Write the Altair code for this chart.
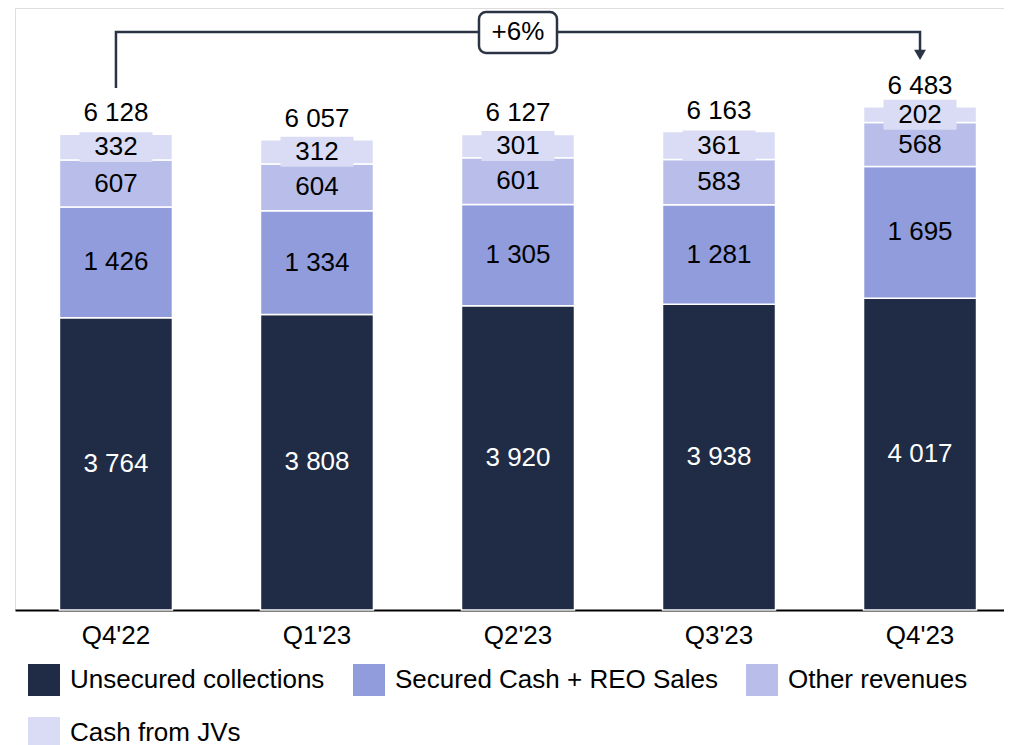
import altair as alt
import pandas as pd

quarters = ["Q4'22", "Q1'23", "Q2'23", "Q3'23", "Q4'23"]
series = ["Unsecured collections", "Secured Cash + REO Sales", "Other revenues", "Cash from JVs"]
unsecured = [3764, 3808, 3920, 3938, 4017]
secured = [1426, 1334, 1305, 1281, 1695]
other = [607, 604, 601, 583, 568]
jvs = [332, 312, 301, 361, 202]
totals = [6128, 6057, 6127, 6163, 6483]
colors = ["#202b45", "#909cdb", "#b8bee9", "#d9dcf4"]
text_colors = ["white", "black", "black", "black"]
growth_label = "+6%"
bracket_start, bracket_end = "Q4'22", "Q4'23"
bracket_y, bracket_low, bracket_tip = 7446, 6724, 7150
box_low, box_high = 7175, 7703

FONT = "Liberation Sans"
FS = 26
Y_MAX = 7755

def fmt(v):
    return f"{v:,}".replace(",", " ")

rows = []
for qi, q in enumerate(quarters):
    base = 0
    for si, (s, vals) in enumerate(zip(series, [unsecured, secured, other, jvs])):
        v = vals[qi]
        rows.append(dict(q=q, series=s, order=si, y0=base, y1=base + v,
                         mid=base + v / 2, label=fmt(v), tcolor=text_colors[si],
                         bg0=base + v / 2 - 193, bg1=base + v / 2 + 193))
        base += v
df = pd.DataFrame(rows)
tot = pd.DataFrame(dict(q=quarters, top=[df[df.q == q].y1.max() for q in quarters],
                        label=[fmt(t) for t in totals]))

xs = alt.X("q:N", sort=quarters,
           scale=alt.Scale(paddingInner=0.438, paddingOuter=0.179, align=0.618),
           axis=alt.Axis(title=None, labelAngle=0, labelFont=FONT, labelFontSize=FS,
                         labelColor="black", ticks=False, labelPadding=12,
                         domainColor="black", domainWidth=2))
yscale = alt.Scale(domain=[0, Y_MAX], nice=False, zero=True)
xq = alt.X("q:N", sort=quarters)

bars = alt.Chart(df).mark_bar(width=113, stroke="white", strokeWidth=1.5).encode(
    x=xs,
    y=alt.Y("y0:Q", scale=yscale, axis=None),
    y2="y1:Q",
    color=alt.Color("series:N",
                    scale=alt.Scale(domain=series, range=colors),
                    legend=alt.Legend(title=None, orient="none", legendX=13, legendY=656,
                                      direction="horizontal", columns=3,
                                      symbolType="square", symbolSize=1024,
                                      symbolStrokeWidth=0, labelFont=FONT, labelFontSize=FS,
                                      labelColor="black", labelOffset=10, columnPadding=28,
                                      rowPadding=21, labelLimit=500)),
    order="order:Q",
)

label_bg = alt.Chart(df[df.series == "Cash from JVs"]).mark_bar(width=73, color=colors[3]).encode(
    x=xq, y=alt.Y("bg0:Q", scale=yscale, axis=None), y2="bg1:Q")

seg_text = alt.Chart(df).mark_text(font=FONT, fontSize=FS, baseline="middle").encode(
    x=xq, y=alt.Y("mid:Q", scale=yscale, axis=None),
    text="label:N", color=alt.Color("tcolor:N", scale=None))

tot_text = alt.Chart(tot).mark_text(font=FONT, fontSize=FS, baseline="middle", dy=-21,
                                     color="black").encode(
    x=xq, y=alt.Y("top:Q", scale=yscale, axis=None), text="label:N")

br = pd.DataFrame(dict(q=[bracket_start, bracket_start, bracket_end, bracket_end],
                       v=[bracket_low, bracket_y, bracket_y, bracket_tip], o=[0, 1, 2, 3]))
bracket = alt.Chart(br).mark_line(color="#2b3445", strokeWidth=2.5).encode(
    x=xq, y=alt.Y("v:Q", scale=yscale, axis=None), order="o:Q")
arrow = alt.Chart(pd.DataFrame(dict(q=[bracket_end], v=[bracket_tip]))).mark_point(
    shape="triangle-down", filled=True, size=140, color="#2b3445", opacity=1).encode(
    x=xq, y=alt.Y("v:Q", scale=yscale, axis=None))

box_df = pd.DataFrame(dict(q=["Q2'23"], lo=[box_low], hi=[box_high], mid=[bracket_y], t=[growth_label]))
box = alt.Chart(box_df).mark_bar(width=78, cornerRadius=7, fill="white", stroke="#2b3445",
                                  strokeWidth=2.5).encode(
    x=xq, y=alt.Y("lo:Q", scale=yscale, axis=None), y2="hi:Q")
box_text = alt.Chart(box_df).mark_text(font=FONT, fontSize=FS, color="black", baseline="middle").encode(
    x=xq, y=alt.Y("mid:Q", scale=yscale, axis=None), text="t:N")

chart = alt.layer(bars, label_bg, seg_text, tot_text, bracket, arrow, box, box_text).properties(
    width=989, height=602, padding={"left": 7, "top": 0, "right": 0, "bottom": 0},
).configure_view(stroke=None).configure(background="white")

chart.save("out.html", embed_options={"renderer": "svg", "actions": False})
